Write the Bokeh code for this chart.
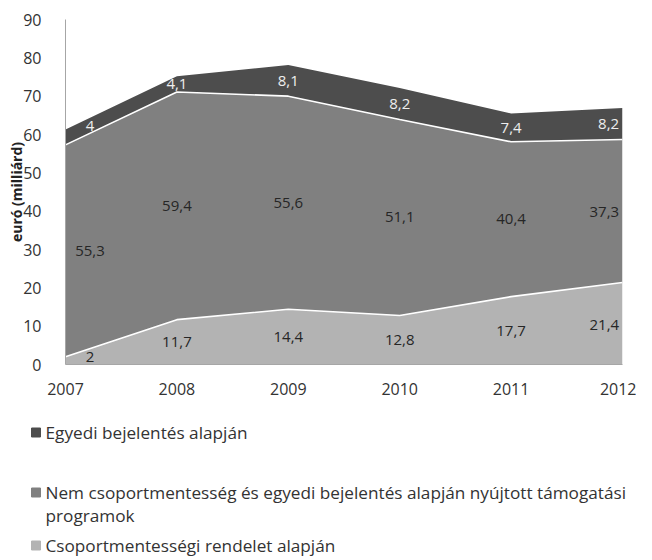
import numpy as np
from bokeh.plotting import figure
from bokeh.models import ColumnDataSource, FixedTicker, Range1d
from bokeh.layouts import column, row
from bokeh.embed import file_html
from bokeh.resources import INLINE
from bokeh.core.properties import value

years = [2007, 2008, 2009, 2010, 2011, 2012]
csoport = [2, 11.7, 14.4, 12.8, 17.7, 21.4]
nem = [55.3, 59.4, 55.6, 51.1, 40.4, 37.3]
egyedi = [4, 4.1, 8.1, 8.2, 7.4, 8.2]
y_ticks = [0, 10, 20, 30, 40, 50, 60, 70, 80, 90]
y_title = "euró (milliárd)"
legend_names = ["Egyedi bejelentés alapján",
                "Nem csoportmentesség és egyedi bejelentés alapján nyújtott támogatási\nprogramok",
                "Csoportmentességi rendelet alapján"]

FONT = "Open Sans"
colors = ["#b3b3b3", "#808080", "#4d4d4d"]

W, H = 636, 400
BL, BR, BT, BB = 65, 14, 19, 36
X0, X1, Y0, Y1 = 2007, 2012, 0, 90

src = ColumnDataSource(dict(year=years, c=csoport, n=nem, e=egyedi))

p = figure(width=W, height=H, x_range=Range1d(X0, X1), y_range=Range1d(Y0, Y1),
           output_backend="svg", toolbar_location=None,
           min_border_left=BL, min_border_right=BR, min_border_top=BT, min_border_bottom=BB)
p.varea_stack(["c", "n", "e"], x="year", color=colors, source=src)

cum1 = np.array(csoport, dtype=float)
cum2 = cum1 + np.array(nem)
cum3 = cum2 + np.array(egyedi)
p.line(years, cum1, color="white", line_width=1.6)
p.line(years, cum2, color="white", line_width=1.6)

p.xgrid.visible = False
p.ygrid.visible = False
p.outline_line_color = None

for ax in (p.xaxis[0], p.yaxis[0]):
    ax.axis_line_color = "#a6a6a6"
    ax.major_tick_line_color = None
    ax.minor_tick_line_color = None
    ax.major_label_text_font = FONT
    ax.major_label_text_font_size = "16px"
    ax.major_label_text_color = "#333333"

p.xaxis.ticker = FixedTicker(ticks=years)
p.xaxis.major_label_standoff = 12
p.yaxis.ticker = FixedTicker(ticks=y_ticks)
p.yaxis.major_label_standoff = 18
p.yaxis.axis_label = y_title
p.yaxis.axis_label_text_font = FONT
p.yaxis.axis_label_text_font_style = "bold"
p.yaxis.axis_label_text_font_size = "14px"
p.yaxis.axis_label_text_color = "#222222"
p.yaxis.axis_label_standoff = -6

def fmt(v):
    return str(v).replace(".", ",")

# (lower, upper, values, text colour, where the first label's height is read)
bands = [(np.zeros(len(years)), cum1, csoport, "#262626", 0.22),
         (cum1, cum2, nem, "#262626", 0.0),
         (cum2, cum3, egyedi, "#eeeeee", 0.22)]
n = len(years)
for lo, hi, vals, tcol, first_eval in bands:
    xs, ys, txt, aligns = [], [], [], []
    for i in range(n):
        if i == 0:
            xa, xc, al = years[0] + 0.22, years[0] + first_eval, "center"
        elif i == n - 1:
            xa, xc, al = years[-1] - 0.03, years[-1] - 0.17, "right"
        else:
            xa, xc, al = years[i], years[i], "center"
        ym = (np.interp(xc, years, lo) + np.interp(xc, years, hi)) / 2
        xs.append(xa); ys.append(ym); txt.append(fmt(vals[i])); aligns.append(al)
    lsrc = ColumnDataSource(dict(x=xs, y=ys, t=txt, a=aligns))
    p.text(x="x", y="y", text="t", text_align="a", text_baseline="middle",
           text_font=value(FONT), text_font_size="15px", text_color=tcol, source=lsrc)

# legend panel (pixel coordinate system, y downwards)
LW, LH = 644, 158
lg = figure(width=LW, height=LH, x_range=Range1d(0, LW), y_range=Range1d(LH, 0),
            output_backend="svg", toolbar_location=None,
            min_border_left=0, min_border_right=0, min_border_top=0, min_border_bottom=0)
lg.axis.visible = False
lg.grid.visible = False
lg.outline_line_color = None
legend_colors = [colors[2], colors[1], colors[0]]
legend_rows = [32, 92, 145]
mx, tx, line_h = 35.5, 45, 23
lg.scatter(x=[mx] * 3, y=legend_rows, marker="square", size=9, color=legend_colors)
tx_list, ty_list, tt_list = [], [], []
for name, ry in zip(legend_names, legend_rows):
    for k, line in enumerate(name.split("\n")):
        tx_list.append(tx); ty_list.append(ry + line_h * k); tt_list.append(line)
lg.text(x=tx_list, y=ty_list, text=tt_list, text_baseline="middle",
        text_font=value(FONT), text_font_size="17.2px", text_color="#333333")

layout = column(p, row(lg))
open("out.html", "w").write(file_html(layout, INLINE))
